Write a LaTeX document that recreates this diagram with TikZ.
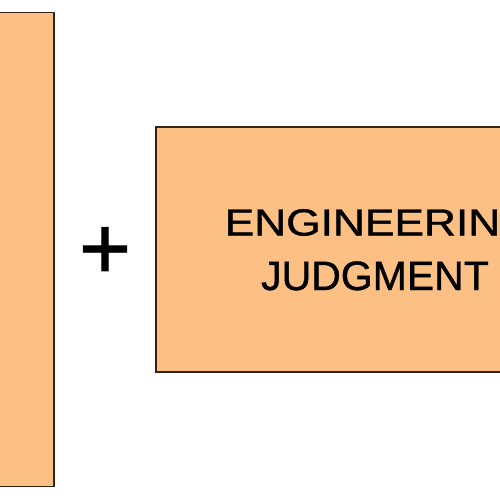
\documentclass[tikz,border=0pt]{standalone}
\usepackage{fontspec}
\setmainfont{Liberation Sans}
\newfontfamily\heavysans[FakeBold=1]{Liberation Sans}
\definecolor{boxfill}{RGB}{252,191,132}
\definecolor{boxline}{RGB}{50,36,24}
\tikzset{
  blockbox/.style={draw=boxline, line width=1.6pt, fill=boxfill},
  bigtext/.style={font=\heavysans\fontsize{41}{49}\selectfont, text=black, inner sep=0pt}
}
\begin{document}
\begin{tikzpicture}[x=1pt,y=-1pt]
\useasboundingbox (0,0) rectangle (500,500);
\clip (0,0) rectangle (500,500);
\fill[white] (0,0) rectangle (500,500);
\draw[blockbox] (-20,12.5) rectangle (54,486.5);
\node[blockbox, minimum width=442pt, minimum height=245pt, inner sep=0pt, anchor=north west] (judg) at (155,126) {};
\node[bigtext, anchor=base west] (jtext1) at (224.5,235.5) {\scalebox{1.08}[0.92]{ENGINEERING}};
\node[bigtext, anchor=base] (jtext2) at (375,290) {JUDGMENT};
\node[font=\heavysans\fontsize{89}{89}\selectfont, inner sep=0pt] (plus) at (105,253) {+};
\end{tikzpicture}
\end{document}
